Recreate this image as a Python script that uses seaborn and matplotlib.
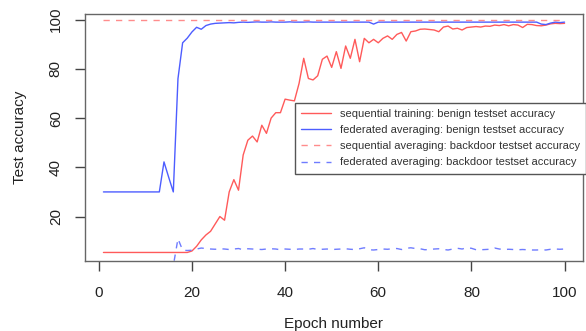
import numpy as np
import pandas as pd
import matplotlib
matplotlib.use("Agg")
import matplotlib.pyplot as plt
import seaborn as sns

epochs = list(range(1, 101))

seq_benign = [5.4] * 19 + [
    6.0, 7.9, 10.5, 12.5, 14.0, 17.0, 20.0, 18.5, 30.0, 35.0,      # 20-29
    30.7, 45.0, 51.0, 52.7, 50.3, 57.1, 53.8, 60.0, 62.2, 62.2,    # 30-39
    67.7, 67.3, 67.0, 74.1, 84.3, 76.1, 75.5, 77.2, 83.9, 85.2,    # 40-49
    80.6, 87.0, 80.2, 89.3, 84.3, 92.0, 82.9, 92.4, 90.6, 92.0,    # 50-59
    90.6, 92.4, 93.4, 92.0, 94.0, 94.8, 91.3, 95.1, 95.4, 96.1,    # 60-69
    96.2, 96.0, 95.8, 95.1, 97.0, 97.4, 96.2, 96.5, 95.8, 96.8,    # 70-79
    97.0, 97.2, 97.0, 97.4, 97.3, 97.8, 97.6, 98.0, 97.5, 98.0,    # 80-89
    97.8, 96.8, 98.1, 98.0, 97.6, 97.5, 97.8, 98.3, 98.5, 98.4,    # 90-99
    98.5,                                                          # 100
]

fed_benign = [30.0] * 13 + [42.2, 36.0, 30.0, 76.0, 90.6, 92.5, 95.0,  # 1-20
    96.9, 96.1, 97.6, 98.2, 98.5, 98.6, 98.7, 98.8, 98.7, 98.9,      # 21-30
] + [99.0, 98.9, 99.0, 99.1, 99.0, 99.0, 99.1, 99.0, 99.0, 99.0,   # 31-40
     99.1, 99.0, 99.0, 99.0, 99.1, 99.0, 99.0, 99.0, 99.0, 99.0,   # 41-50
     99.0, 99.0, 99.0, 99.0, 99.0, 99.0, 99.0, 99.0, 98.2, 99.0,   # 51-60
     99.0, 99.0, 99.0, 99.0, 99.0, 99.0, 99.0, 99.0, 99.0, 99.0,   # 61-70
     99.0, 99.0, 99.0, 99.0, 99.0, 99.0, 99.0, 99.0, 99.0, 99.0,   # 71-80
     99.0, 99.0, 99.0, 99.0, 99.0, 99.0, 99.0, 99.0, 99.0, 99.0,   # 81-90
     99.0, 99.0, 99.0, 99.0, 98.2, 98.0, 98.6, 99.0, 98.8, 99.0]   # 91-100

seq_backdoor = [100.0] * 100

fed_backdoor = [0.0] * 16 + [
    11.0, 6.3, 6.2, 6.3, 6.8, 7.2, 7.0, 6.8, 6.7, 6.9,      # 17-26
    6.8, 6.6, 6.8, 7.0, 6.5, 6.9, 6.8, 6.7, 6.6, 6.8,       # 27-36
    6.9, 6.8, 6.5, 6.8, 6.7, 6.6, 6.8, 6.8, 6.7, 7.0,       # 37-46
    6.6, 6.7, 6.8, 6.6, 6.7, 6.8, 6.9, 6.7, 6.6, 6.9,       # 47-56
    7.3, 6.5, 6.4, 6.6, 6.8, 6.7, 6.9, 7.0, 6.6, 7.1,       # 57-66
    7.3, 7.0, 6.9, 6.5, 6.6, 6.8, 6.9, 6.6, 6.4, 6.8,       # 67-76
    7.1, 6.8, 7.3, 7.1, 6.5, 6.5, 6.6, 6.7, 7.2, 6.8,       # 77-86
    6.6, 6.7, 6.6, 6.5, 6.6, 6.5, 6.4, 6.4, 6.5, 6.4,       # 87-96
    6.7, 6.8, 6.7, 6.8,                                     # 97-100
]

labels = [
    "sequential training: benign testset accuracy",
    "federated averaging: benign testset accuracy",
    "sequential averaging: backdoor testset accuracy",
    "federated averaging: backdoor testset accuracy",
]
xticks = [0, 20, 40, 60, 80, 100]
yticks = [20, 40, 60, 80, 100]

sns.set_theme(style="white")
plt.rcParams["font.family"] = ["Liberation Sans", "DejaVu Sans"]

fig = plt.figure(figsize=(5.86, 3.31), dpi=100)
ax = fig.add_axes([85 / 586, 1 - 261 / 331, (583 - 85) / 586, (261 - 14) / 331])

dash = (0, (4.5, 4.5))
sns.lineplot(x=epochs, y=seq_benign, color="#ff5a5a", lw=1.0, label=labels[0], ax=ax)
sns.lineplot(x=epochs, y=fed_benign, color="#4d5dff", lw=1.0, label=labels[1], ax=ax)
sns.lineplot(x=epochs, y=seq_backdoor, color="#ff8c8c", lw=1.0, linestyle=dash, label=labels[2], ax=ax)
sns.lineplot(x=epochs, y=fed_backdoor, color="#6f7cff", lw=1.0, linestyle=dash, label=labels[3], ax=ax)

ax.set_xlim(-2.96, 103.96)
ax.set_ylim(1.93, 102.3)
ax.set_xticks(xticks)
ax.set_yticks(yticks)
ax.set_xticklabels([str(t) for t in xticks])
ax.set_yticklabels([str(t) for t in yticks], rotation=90, va="center")

for s in ax.spines.values():
    s.set_color("#666666")
    s.set_linewidth(1.0)

ax.tick_params(axis="both", which="major", direction="out", length=7, width=1.0,
               color="#444444", labelsize=11, labelcolor="#222222",
               bottom=True, left=True)
ax.tick_params(axis="x", pad=11)
ax.tick_params(axis="y", pad=9)

ax.set_xlabel("Epoch number", fontsize=11, color="#222222", labelpad=12)
ax.set_ylabel("Test accuracy", fontsize=11, color="#222222", labelpad=16)

leg = ax.legend(loc="upper left", bbox_to_anchor=(295 / 586, 1 - 103 / 331),
                bbox_transform=fig.transFigure, fontsize=8, frameon=True,
                fancybox=False, handlelength=2.7, handletextpad=0.8,
                labelspacing=0.55, borderpad=0.55, borderaxespad=0)
leg.get_frame().set_edgecolor("#555555")
leg.get_frame().set_linewidth(1.0)
leg.get_frame().set_alpha(1.0)
for t in leg.get_texts():
    t.set_color("#333333")

fig.savefig("out.png", dpi=100)
